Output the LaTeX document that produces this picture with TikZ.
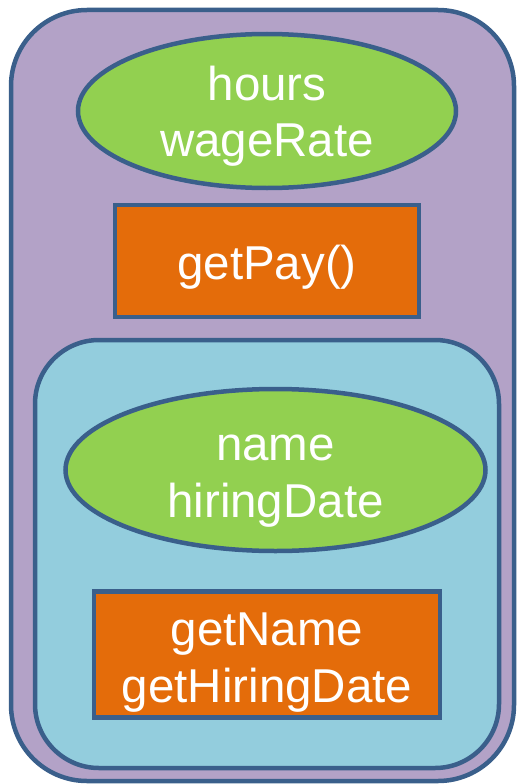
\documentclass[tikz,border=0pt]{standalone}
\usepackage{fontspec}
\setmainfont{Liberation Sans}
\usetikzlibrary{shapes.geometric}
\definecolor{edge}{HTML}{3A5F8B}
\definecolor{purp}{HTML}{B3A2C7}
\definecolor{grn}{HTML}{92D050}
\definecolor{org}{HTML}{E46C0A}
\definecolor{lblue}{HTML}{93CDDD}
\tikzset{
  box/.style={draw=edge, line width=4.5pt, inner sep=0pt, outer sep=0pt},
  roundbox/.style={box, rectangle, rounded corners=#1},
  field/.style={box, ellipse, fill=grn},
  method/.style={box, rectangle, fill=org},
  txt/.style={text=white, align=center, inner sep=0pt,
    font=\fontsize{47.5}{56.5}\selectfont},
}
\begin{document}
\begin{tikzpicture}[x=1pt,y=-1pt]
\useasboundingbox (0,0) rectangle (518,784);
\node[roundbox=76pt, fill=purp, minimum width=503pt, minimum height=771pt] (outer) at (262.5,395.5) {};
\node[field, minimum width=378pt, minimum height=154pt] (f1) at (267,111) {};
\node[txt] (f1t) at ([yshift=-5pt]f1.center) {hours\\wageRate};
\node[method, minimum width=304pt, minimum height=112pt] (m1) at (267,261) {};
\node[txt] (m1t) at ([yshift=-6.5pt]m1.center) {getPay()};
\node[roundbox=64pt, fill=lblue, minimum width=464pt, minimum height=428pt] (inner) at (267,554) {};
\node[field, minimum width=420pt, minimum height=162pt] (f2) at (275.5,470) {};
\node[txt] (f2t) at ([yshift=-11pt]f2.center) {name\\hiringDate};
\node[method, minimum width=346pt, minimum height=126pt] (m2) at (267,654.5) {};
\node[txt] (m2t) at ([yshift=-8pt]m2.center) {getName\\getHiringDate};
\end{tikzpicture}
\end{document}
